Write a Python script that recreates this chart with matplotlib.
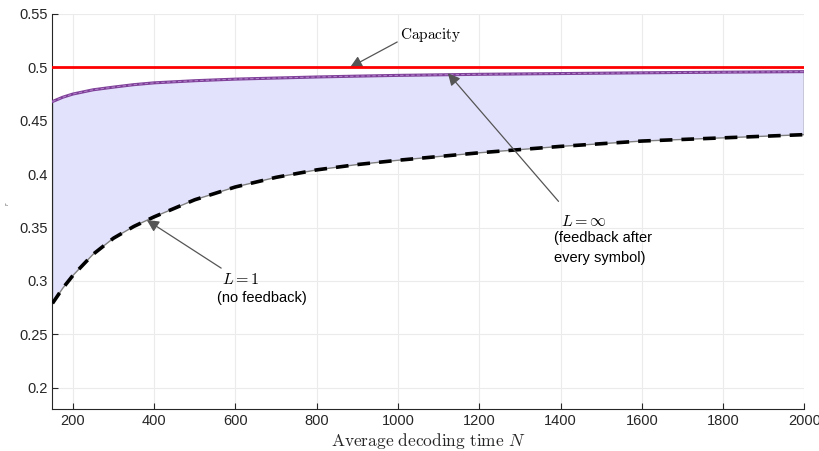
import numpy as np
import matplotlib.pyplot as plt

plt.rcParams['font.family'] = ['Liberation Sans', 'DejaVu Sans']
plt.rcParams['mathtext.fontset'] = 'cm'

# average decoding time N
n_vals = [150, 175, 200, 250, 300, 350, 400, 500, 600, 700, 800, 900,
          1000, 1200, 1400, 1600, 1800, 2000]
# L = 1 (no feedback)
rate_l1 = [0.279, 0.293, 0.305, 0.325, 0.340, 0.351, 0.360, 0.376, 0.388,
           0.397, 0.404, 0.409, 0.413, 0.420, 0.426, 0.431, 0.434, 0.437]
# L = inf (feedback after every symbol)
rate_linf = [0.468, 0.472, 0.475, 0.479, 0.4815, 0.4838, 0.4855, 0.4875, 0.489,
             0.490, 0.491, 0.4918, 0.4925, 0.4935, 0.4942, 0.4949, 0.4955, 0.496]
capacity = 0.5

x_ticks = [200, 400, 600, 800, 1000, 1200, 1400, 1600, 1800, 2000]
y_ticks = [0.2, 0.25, 0.3, 0.35, 0.4, 0.45, 0.5, 0.55]


def main():
    fig = plt.figure(figsize=(8.2, 4.51), dpi=100)
    ax = fig.add_axes([0.064, 0.093, 0.917, 0.876])

    n = np.asarray(n_vals)
    lo = np.asarray(rate_l1)
    hi = np.asarray(rate_linf)

    # shaded region between the two curves
    poly_x = np.concatenate([n, n[::-1]])
    poly_y = np.concatenate([hi, lo[::-1]])
    ax.fill(poly_x, poly_y, facecolor='#e2e2fd', edgecolor='#808080',
            linewidth=1.0, zorder=2)

    ax.axhline(capacity, color='#ff0000', linewidth=2.0, zorder=4)
    ax.plot(n, hi, color='#7e3f98', linewidth=2.2, zorder=3)
    ax.plot(n, hi, color='#b07ec8', linewidth=0.8, linestyle=(0, (3, 2)), zorder=3)
    ax.plot(n, lo, color='black', linewidth=2.6, linestyle=(0, (3.5, 2.5)), zorder=3)

    ax.set_xlim(150, 2000)
    ax.set_ylim(0.18, 0.55)
    ax.set_xticks(x_ticks)
    ax.set_yticks(y_ticks)
    ax.set_yticklabels(['0.2', '0.25', '0.3', '0.35', '0.4', '0.45', '0.5', '0.55'])
    ax.tick_params(direction='in', length=4, labelsize=10.5, colors='#262626',
                   width=0.8)
    ax.grid(True, color='#ebebeb', linewidth=0.8)
    ax.set_axisbelow(True)
    for side in ['top', 'right']:
        ax.spines[side].set_visible(False)
    for side in ['left', 'bottom']:
        ax.spines[side].set_color('#262626')
        ax.spines[side].set_linewidth(0.8)

    ax.set_xlabel(r'$\mathrm{Average\ decoding\ time}\ N$', fontsize=12.5,
                  labelpad=2, color='#262626')
    ax.set_ylabel(r'$r$', fontsize=4, color='#262626')
    ax.yaxis.set_label_coords(-0.055, 0.52)

    arrow = dict(arrowstyle='-|>', color='#555555', lw=0.9,
                 mutation_scale=18, shrinkA=0, shrinkB=0)
    ax.annotate(r'$\mathrm{Capacity}$', xy=(882, capacity), xytext=(1005, 0.5218),
                fontsize=11, va='bottom', ha='left',
                arrowprops=dict(arrow, relpos=(0, 0.2)))
    ax.annotate('', xy=(1123, 0.4945), xytext=(1395, 0.3745),
                arrowprops=arrow)
    ax.text(1400, 0.3552, r'$L = \infty$', fontsize=11.5, ha='left', va='center')
    ax.text(1385, 0.3465, '(feedback after\nevery symbol)', fontsize=10.5,
            ha='left', va='top', linespacing=1.5)
    ax.annotate('', xy=(382, 0.357), xytext=(565, 0.312),
                arrowprops=arrow)
    ax.text(568, 0.301, r'$L = 1$', fontsize=11.5, ha='left', va='center')
    ax.text(555, 0.2905, '(no feedback)', fontsize=10.5, ha='left', va='top')

    fig.savefig('out.png', dpi=100)


if __name__ == '__main__':
    main()
